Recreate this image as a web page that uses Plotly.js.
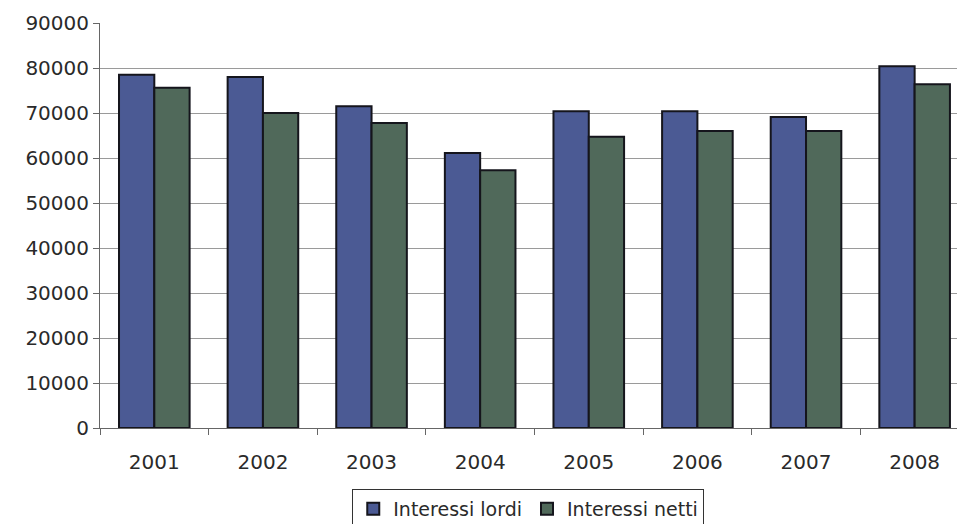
<!DOCTYPE html>
<html>
<head>
<meta charset="utf-8">
<script src="https://cdn.plot.ly/plotly-3.0.1.min.js"></script>
<style>html,body{margin:0;padding:0;background:#fff;}#chart{width:957px;height:524px;}</style>
</head>
<body>
<div id="chart"></div>
<script>
const years = ['2001','2002','2003','2004','2005','2006','2007','2008'];
const interessiLordi = [78500, 78000, 71500, 61100, 70400, 70400, 69100, 80400];
const interessiNetti = [75600, 70000, 67800, 57300, 64700, 66000, 66000, 76400];
const yTicks = [0,10000,20000,30000,40000,50000,60000,70000,80000,90000];

const traces = [
  {type:'bar', name:'Interessi lordi', x:years, y:interessiLordi,
   marker:{color:'#4b5a94', line:{color:'#15151c', width:2}}},
  {type:'bar', name:'Interessi netti', x:years, y:interessiNetti,
   marker:{color:'#50695a', line:{color:'#15151c', width:2}}}
];

const layout = {
  width:957, height:524,
  margin:{l:100, r:0, t:23, b:96},
  paper_bgcolor:'#fff', plot_bgcolor:'#fff',
  barmode:'group', bargap:0.35, bargroupgap:0,
  font:{family:'DejaVu Sans, Verdana, sans-serif', color:'#2a2a2a', size:20},
  xaxis:{type:'category', range:[-0.5, 7.39], showgrid:false, automargin:false,
    showline:true, linecolor:'#666', linewidth:1,
    ticks:'outside', tickson:'boundaries', ticklen:6, tickcolor:'#666',
    ticklabelstandoff:16,
    tickfont:{size:20, color:'#2a2a2a'}, zeroline:false},
  yaxis:{range:[0,90000], tickvals:yTicks, ticktext:yTicks.map(String), automargin:false,
    showgrid:true, gridcolor:'#9a9a9a', gridwidth:1,
    showline:true, linecolor:'#666', linewidth:1,
    ticks:'outside', ticklen:6, tickcolor:'#666',
    tickfont:{size:20, color:'#2a2a2a'}, zeroline:false},
  legend:{orientation:'h', x:0.552, xanchor:'center', xref:'container',
    y:0.067, yanchor:'top', yref:'container',
    bordercolor:'#333', borderwidth:1, font:{size:19, color:'#2a2a2a'},
    itemwidth:30, tracegroupgap:0},
  showlegend:true
};

Plotly.newPlot('chart', traces, layout, {displayModeBar:false, staticPlot:true});
</script>
</body>
</html>
